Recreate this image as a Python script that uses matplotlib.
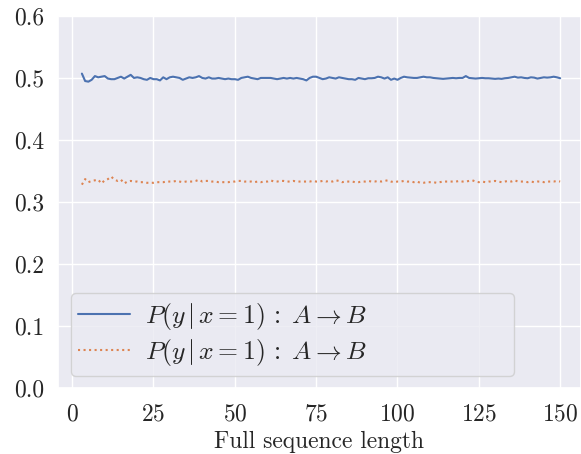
import numpy as np
import matplotlib
matplotlib.use("Agg")
import matplotlib.pyplot as plt
import seaborn as sns

# sequence lengths 3..150
lengths = np.arange(3, 151)

# P(y | x=1) for the first setup (solid)
p_solid = [
    0.507, 0.495, 0.494, 0.497, 0.503, 0.501, 0.502, 0.503,
    0.499, 0.498, 0.498, 0.500, 0.502, 0.499, 0.502, 0.505, 0.500, 0.501,
    0.500, 0.498, 0.497, 0.500, 0.498, 0.498, 0.496, 0.501, 0.498, 0.501,
    0.502, 0.501, 0.500, 0.497, 0.499, 0.501, 0.500, 0.501, 0.503, 0.500,
    0.499, 0.501, 0.499, 0.499, 0.500, 0.499, 0.498, 0.499, 0.498, 0.498,
    0.497, 0.500, 0.501, 0.502, 0.500, 0.499, 0.498, 0.500, 0.500, 0.500,
    0.500, 0.499, 0.498, 0.499, 0.500, 0.499, 0.500, 0.499, 0.500, 0.499,
    0.498, 0.496, 0.500, 0.502, 0.502, 0.500, 0.498, 0.499, 0.501, 0.500,
    0.499, 0.501, 0.500, 0.499, 0.498, 0.498, 0.497, 0.500, 0.499, 0.498,
    0.4995, 0.4995, 0.500, 0.502, 0.501, 0.499, 0.501, 0.497, 0.499, 0.497,
    0.500, 0.502, 0.501, 0.5005, 0.500, 0.500, 0.501, 0.502, 0.501, 0.501,
    0.500, 0.4995, 0.499, 0.4985, 0.499, 0.4995, 0.500, 0.4995, 0.500, 0.500,
    0.503, 0.500, 0.4995, 0.499, 0.4995, 0.500, 0.4995, 0.4995, 0.499, 0.4985,
    0.499, 0.4985, 0.4995, 0.500, 0.501, 0.502, 0.5005, 0.501, 0.500, 0.4995,
    0.501, 0.5005, 0.499, 0.500, 0.501, 0.5005, 0.501, 0.502, 0.501, 0.4995,
]

# second setup (dotted)
p_dotted = [
    0.328, 0.337, 0.332, 0.334, 0.335, 0.336, 0.330, 0.335,
    0.337, 0.341, 0.336, 0.334, 0.336, 0.330, 0.333, 0.334, 0.333, 0.333,
    0.332, 0.332, 0.331, 0.331, 0.331, 0.332, 0.332, 0.332, 0.333, 0.333,
    0.333, 0.334, 0.333, 0.332, 0.333, 0.333, 0.333, 0.334, 0.336, 0.333,
    0.334, 0.334, 0.333, 0.333, 0.332, 0.332, 0.332, 0.332, 0.333, 0.333,
    0.334, 0.334, 0.333, 0.333, 0.333, 0.332, 0.333, 0.332, 0.333, 0.333,
    0.335, 0.333, 0.333, 0.334, 0.334, 0.333, 0.333, 0.334, 0.333, 0.333,
    0.333, 0.333, 0.333, 0.334, 0.333, 0.333, 0.334, 0.333, 0.334, 0.333,
    0.335, 0.334, 0.332, 0.333, 0.333, 0.333, 0.332, 0.332, 0.333, 0.333,
    0.334, 0.333, 0.333, 0.334, 0.333, 0.334, 0.335, 0.333, 0.332, 0.333,
    0.333, 0.334, 0.333, 0.333, 0.332, 0.333, 0.331, 0.331, 0.332, 0.332,
    0.332, 0.331, 0.332, 0.333, 0.333, 0.333, 0.333, 0.333, 0.334, 0.333,
    0.333, 0.334, 0.335, 0.333, 0.332, 0.333, 0.332, 0.333, 0.333, 0.334,
    0.333, 0.332, 0.333, 0.334, 0.333, 0.335, 0.333, 0.333, 0.333, 0.332,
    0.333, 0.332, 0.333, 0.333, 0.332, 0.333, 0.333, 0.333, 0.334, 0.333,
]

label = r'$P(y\,|\,x=1)\,:\;A\rightarrow B$'
labels = [label, label]

sns.set_theme(style='darkgrid')
plt.rcParams['font.family'] = 'serif'
plt.rcParams['font.serif'] = ['cmr10']
plt.rcParams['mathtext.fontset'] = 'cm'
plt.rcParams['axes.formatter.use_mathtext'] = True

fig = plt.figure(figsize=(5.81, 4.54), dpi=100)
ax = fig.add_axes([0.0998, 0.145, 0.9002, 0.820])

ax.plot(lengths, p_solid, color='#4c72b0', lw=1.5, label=labels[0])
ax.plot(lengths, p_dotted, color='#dd8452', lw=1.5, ls=':', label=labels[1])

ax.set_xlim(-4.35, 156.4)
ax.set_ylim(0, 0.6)
ax.set_xticks([0, 25, 50, 75, 100, 125, 150])
ax.set_yticks([0.0, 0.1, 0.2, 0.3, 0.4, 0.5, 0.6])
ax.set_yticklabels(['0.0', '0.1', '0.2', '0.3', '0.4', '0.5', '0.6'])
ax.tick_params(axis='x', labelsize=17, pad=5)
ax.tick_params(axis='y', labelsize=17, pad=4)
ax.set_xlabel('Full sequence length', fontsize=17, labelpad=4)
ax.legend(loc='lower left', fontsize=18.5, mode='expand',
          bbox_to_anchor=(0.0243, 0.0323, 0.8476, 0.2185), borderaxespad=0,
          labelspacing=0.23, borderpad=0.3, handletextpad=0.6)

fig.savefig('out.png', dpi=100)
